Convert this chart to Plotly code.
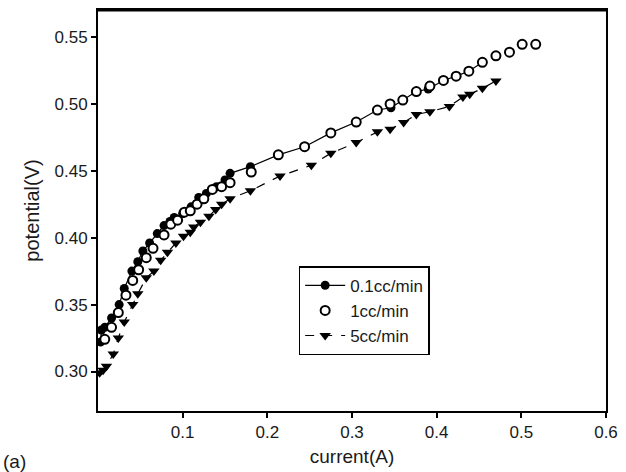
import plotly.graph_objects as go

# 0.1cc/min (filled circles, solid line)
x_a = [0.003, 0.004, 0.008, 0.016, 0.025, 0.031, 0.040, 0.047, 0.053, 0.061, 0.070, 0.078,
       0.085, 0.090, 0.100, 0.110, 0.119, 0.128, 0.140, 0.150, 0.156, 0.180,
       0.213, 0.244, 0.275, 0.305, 0.330, 0.346, 0.360, 0.376, 0.390, 0.408, 0.423, 0.438, 0.454]
y_a = [0.322, 0.331, 0.333, 0.340, 0.350, 0.362, 0.375, 0.382, 0.390, 0.396, 0.403, 0.409,
       0.412, 0.415, 0.418, 0.423, 0.430, 0.433, 0.438, 0.443, 0.448, 0.453,
       0.4618, 0.4679, 0.4782, 0.4863, 0.4953, 0.497, 0.5027, 0.5091, 0.511, 0.5174, 0.5206, 0.5243, 0.5309]

# 1cc/min (open circles)
x_b = [0.008, 0.016, 0.024, 0.033, 0.041, 0.048, 0.057, 0.065, 0.078, 0.086, 0.094, 0.102,
       0.109, 0.117, 0.125, 0.135, 0.146, 0.156, 0.181, 0.213, 0.244, 0.275, 0.305, 0.330,
       0.345, 0.360, 0.376, 0.392, 0.408, 0.423, 0.438, 0.454, 0.470, 0.486, 0.501, 0.517]
y_b = [0.324, 0.333, 0.344, 0.357, 0.368, 0.376, 0.385, 0.392, 0.402, 0.410, 0.413, 0.419,
       0.420, 0.425, 0.429, 0.436, 0.438, 0.441, 0.449, 0.4618, 0.4679, 0.4782, 0.4863, 0.4953,
       0.4998, 0.5027, 0.5091, 0.5132, 0.5174, 0.5206, 0.5243, 0.5309, 0.5358, 0.5385, 0.5444, 0.5444]

# 5cc/min (filled down-triangles, dashed line)
x_c = [0.002, 0.006, 0.010, 0.018, 0.024, 0.031, 0.041, 0.047, 0.057, 0.066, 0.074, 0.082,
       0.092, 0.101, 0.109, 0.113, 0.121, 0.131, 0.139, 0.146, 0.156, 0.180, 0.215, 0.252,
       0.275, 0.305, 0.330, 0.345, 0.361, 0.376, 0.392, 0.415, 0.431, 0.439, 0.454, 0.470]
y_c = [0.299, 0.301, 0.304, 0.313, 0.325, 0.337, 0.350, 0.358, 0.370, 0.375, 0.383, 0.389,
       0.396, 0.401, 0.404, 0.408, 0.4115, 0.416, 0.421, 0.425, 0.429, 0.435, 0.446, 0.454,
       0.463, 0.471, 0.479, 0.481, 0.486, 0.492, 0.494, 0.498, 0.505, 0.507, 0.5115, 0.517]

x_ticks = [0.1, 0.2, 0.3, 0.4, 0.5, 0.6]
y_ticks = [0.30, 0.35, 0.40, 0.45, 0.50, 0.55]

FONT = "Liberation Sans, Arial, sans-serif"
TXT = "#1a1a1a"

fig = go.Figure()
fig.add_trace(go.Scatter(
    x=x_a, y=y_a, name="0.1cc/min", mode="lines+markers",
    line=dict(color="black", width=1.2),
    marker=dict(symbol="circle", size=9, color="black"),
))
fig.add_trace(go.Scatter(
    x=x_b, y=y_b, name="1cc/min", mode="markers",
    marker=dict(symbol="circle", size=9, color="white", line=dict(color="black", width=2)),
))
fig.add_trace(go.Scatter(
    x=x_c, y=y_c, name="5cc/min", mode="lines+markers",
    line=dict(color="black", width=1.2, dash="dash"),
    marker=dict(symbol="triangle-down", size=10, color="black"),
))

axis_common = dict(
    showgrid=False, zeroline=False, showline=True, linecolor="black", linewidth=2,
    mirror=True, ticks="outside", ticklen=5, tickwidth=1.5, tickcolor="black",
    tickfont=dict(family=FONT, size=17, color=TXT),
)

fig.update_xaxes(range=[0.0, 0.6], tickvals=x_ticks, ticktext=[f"{v:g}" for v in x_ticks],
                 title=dict(text="current(A)", font=dict(family=FONT, size=19, color=TXT), standoff=8),
                 **axis_common)
fig.update_yaxes(range=[0.2705, 0.570], tickvals=y_ticks, ticktext=[f"{v:.2f}" for v in y_ticks],
                 title=dict(text="potential(V)", font=dict(family=FONT, size=20, color=TXT), standoff=10),
                 **axis_common)

fig.add_shape(type="line", xref="paper", yref="paper", x0=0, x1=1, y0=1, y1=1,
              line=dict(color="black", width=3))

fig.add_annotation(text="(a)", xref="paper", yref="paper", x=-0.19, y=-0.095,
                   xanchor="left", yanchor="top", showarrow=False,
                   font=dict(family=FONT, size=19, color=TXT))

fig.update_layout(
    width=626, height=472,
    margin=dict(l=98, r=16, t=8, b=57),
    paper_bgcolor="white", plot_bgcolor="white",
    showlegend=True,
    legend=dict(x=0.395, y=0.361, xanchor="left", yanchor="top",
                bordercolor="black", borderwidth=1.5, bgcolor="white",
                font=dict(family=FONT, size=17, color=TXT),
                tracegroupgap=0, itemwidth=40),
)

fig.write_html("out.html")
